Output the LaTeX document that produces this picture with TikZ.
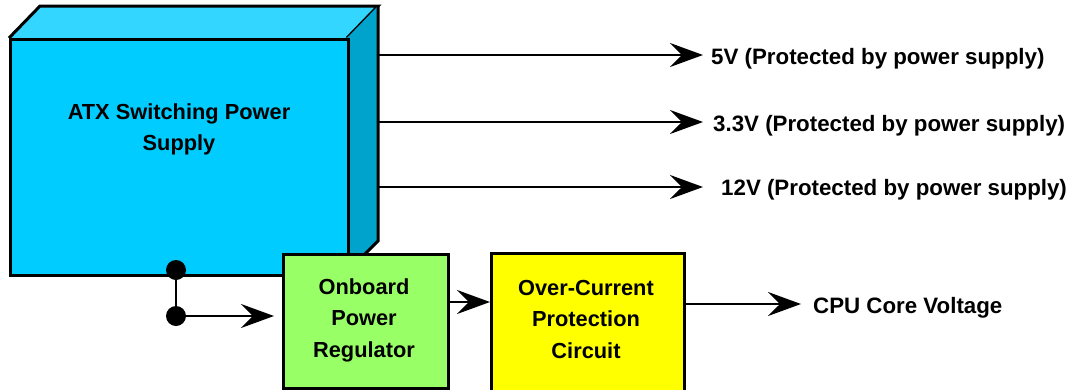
\documentclass[tikz,border=0pt]{standalone}
\usepackage{fontspec}
\setmainfont{Liberation Sans}
\usetikzlibrary{arrows.meta}
\definecolor{psufront}{HTML}{00CCFF}
\definecolor{psutop}{HTML}{33D6FF}
\definecolor{psuside}{HTML}{00A3CC}
\definecolor{regfill}{HTML}{99FF66}
\definecolor{ocpfill}{HTML}{FFFF00}
\begin{document}
\begin{tikzpicture}[x=1pt,y=-1pt,
  lbl/.style={font=\fontsize{21.8}{31.5}\selectfont\bfseries, align=center, inner sep=0pt},
  sidelbl/.style={font=\fontsize{22.3}{31.5}\selectfont\bfseries, inner sep=0pt, anchor=west},
  face/.style={draw=black, line width=3pt, line join=miter},
  blockbox/.style={draw=black, line width=3pt, inner sep=0pt, anchor=north west},
  conn/.style={line width=2.5pt, -{Stealth[length=33pt,width=24pt,inset=12pt]}},
  wire/.style={line width=2.5pt},
  dotnode/.style={circle, fill=black, inner sep=0pt, minimum size=20pt}
]
\useasboundingbox (0,0) rectangle (1069,389);

% 3D power supply box
\fill[psutop] (9,38) -- (40,6) -- (378,6) -- (347,38) -- cycle;
\draw[face] (9,38) -- (40,6) -- (378,6) -- (347,38);
\fill[psuside] (347,38) -- (378,6) -- (378,241) -- (347,272) -- cycle;
\draw[face] (378,6) -- (378,241) -- (347,272);
\node[blockbox, fill=psufront, minimum width=338pt, minimum height=236pt] (psu) at (9,38) {};
\node[lbl] (psutext) at (179,129.5) {ATX Switching Power\\Supply};

% output coordinates on side face
\coordinate (o5) at (378,55);
\coordinate (o33) at (378,122);
\coordinate (o12) at (378,187);

\node[sidelbl] (l5) at (711,59) {5V (Protected by power supply)};
\node[sidelbl] (l33) at (713,125.5) {3.3V (Protected by power supply)};
\node[sidelbl] (l12) at (721,190) {12V (Protected by power supply)};

\draw[conn] (o5) -- ([xshift=-8pt]o5 -| l5.west);
\draw[conn] (o33) -- ([xshift=-10pt]o33 -| l33.west);
\draw[conn] (o12) -- ([xshift=-18pt]o12 -| l12.west);

% regulator and protection blocks
\node[blockbox, fill=regfill, minimum width=165pt, minimum height=134pt] (reg) at (282,253) {};
\node[lbl] (regtext) at (364,320) {Onboard\\Power\\Regulator};
\node[blockbox, fill=ocpfill, minimum width=193pt, minimum height=150pt] (ocp) at (490,252) {};
\node[lbl] (ocptext) at (586,319) {Over-Current\\Protection\\Circuit};

% tap from supply
\node[dotnode] (d1) at (176,270) {};
\node[dotnode] (d2) at (176,316) {};
\draw[wire] (d1.center) -- (d2.center);
\draw[conn] (d2.center) -- (274,316);

\coordinate (ra) at (447,302);
\draw[conn] (ra) -- (490,302);

\node[sidelbl] (cpu) at (813,307.5) {CPU Core Voltage};
\coordinate (oa) at (683,304);
\draw[conn] (oa) -- ([xshift=-12pt]oa -| cpu.west);
\end{tikzpicture}
\end{document}
